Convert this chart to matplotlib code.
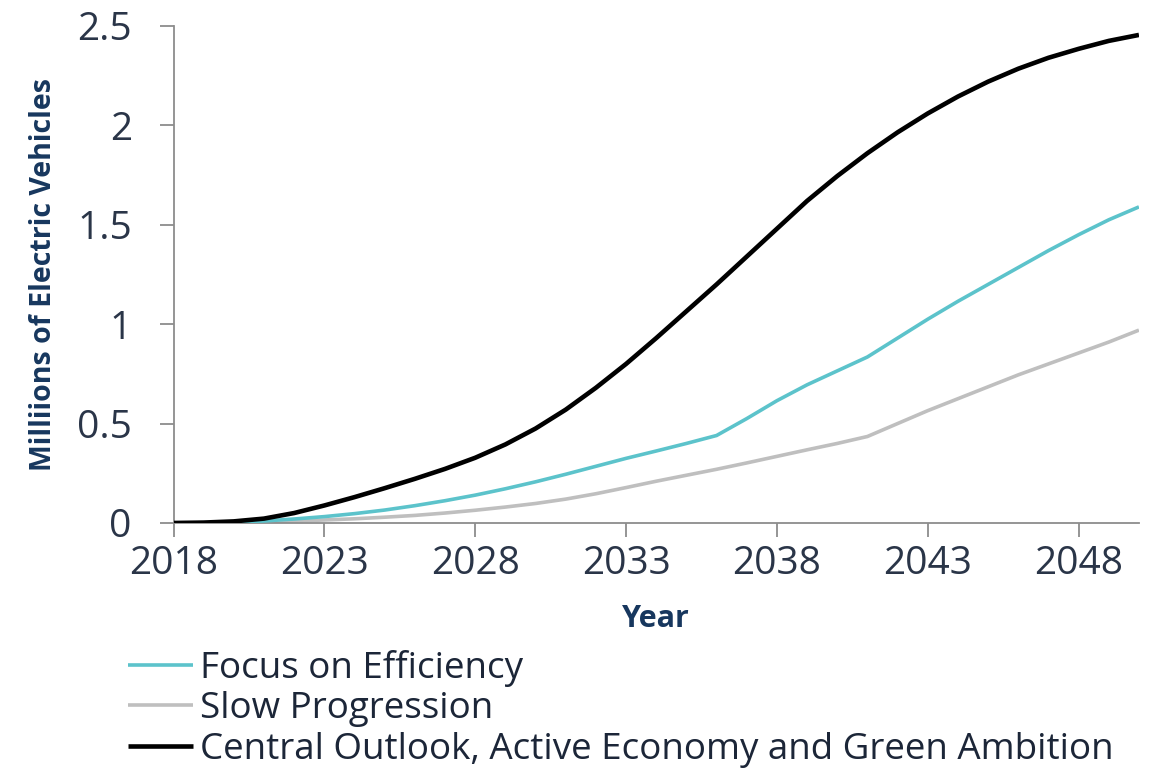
"""
Electric vehicle uptake scenarios, 2018-2050
Run: python plot.py  -> out.png
"""

import matplotlib
matplotlib.use("Agg")
import matplotlib.pyplot as plt
from matplotlib import font_manager


# =============================================================================
# Data (millions of electric vehicles)
# =============================================================================

years = list(range(2018, 2051))

focus_on_efficiency = [
    0.0, 0.001, 0.004, 0.01, 0.02, 0.032, 0.047, 0.065, 0.087, 0.112,
    0.14, 0.172, 0.207, 0.245, 0.285, 0.325, 0.362, 0.40, 0.44, 0.525,
    0.615, 0.695, 0.765, 0.835, 0.93, 1.025, 1.115, 1.20, 1.285, 1.37,
    1.45, 1.525, 1.59,
]

slow_progression = [
    0.0, 0.001, 0.003, 0.006, 0.01, 0.015, 0.021, 0.029, 0.038, 0.05,
    0.064, 0.08, 0.098, 0.12, 0.147, 0.178, 0.21, 0.24, 0.27, 0.302,
    0.335, 0.368, 0.40, 0.435, 0.50, 0.565, 0.625, 0.685, 0.745, 0.80,
    0.855, 0.91, 0.97,
]

central_outlook = [
    0.0, 0.002, 0.008, 0.022, 0.05, 0.088, 0.13, 0.175, 0.222, 0.272,
    0.328, 0.395, 0.475, 0.57, 0.68, 0.80, 0.93, 1.065, 1.20, 1.34,
    1.48, 1.62, 1.745, 1.86, 1.965, 2.06, 2.145, 2.22, 2.285, 2.34,
    2.385, 2.425, 2.455,
]

series_labels = [
    "Focus on Efficiency",
    "Slow Progression",
    "Central Outlook, Active Economy and Green Ambition",
]

x_ticks = [2018, 2023, 2028, 2033, 2038, 2043, 2048]
y_ticks = [0, 0.5, 1, 1.5, 2, 2.5]
y_tick_labels = ["0", "0.5", "1", "1.5", "2", "2.5"]


# =============================================================================
# Styling
# =============================================================================

installed = {f.name for f in font_manager.fontManager.ttflist}
BODY_FONT = "Open Sans" if "Open Sans" in installed else "DejaVu Sans"

plt.rcParams["font.family"] = [BODY_FONT, "DejaVu Sans"]

CYAN = "#5cc3cb"
GREY = "#bfbfbf"
BLACK = "#000000"
AXIS_GREY = "#8c8c8c"
TICK_TEXT = "#2a3548"
NAVY = "#17375e"


# =============================================================================
# Plot
# =============================================================================

fig = plt.figure(figsize=(11.66, 7.71), dpi=100)
ax = fig.add_axes([0.1488, 0.3217, 0.828, 0.6446])

line_style = dict(solid_capstyle="butt", solid_joinstyle="round")
ax.plot(years, focus_on_efficiency, color=CYAN, linewidth=2.6,
        label=series_labels[0], zorder=3, **line_style)
ax.plot(years, slow_progression, color=GREY, linewidth=2.6,
        label=series_labels[1], zorder=2, **line_style)
ax.plot(years, central_outlook, color=BLACK, linewidth=3.3,
        label=series_labels[2], zorder=4, **line_style)

ax.set_xlim(2018, 2050)
ax.set_ylim(0, 2.5)
ax.set_xticks(x_ticks)
ax.set_xticklabels([str(y) for y in x_ticks])
ax.set_yticks(y_ticks)
ax.set_yticklabels(y_tick_labels)

for side in ("top", "right"):
    ax.spines[side].set_visible(False)
for side in ("left", "bottom"):
    ax.spines[side].set_color(AXIS_GREY)
    ax.spines[side].set_linewidth(1.3)

ax.tick_params(axis="both", direction="out", length=10, width=1.3,
               color=AXIS_GREY, labelcolor=TICK_TEXT, labelsize=28)
ax.tick_params(axis="x", pad=6)
ax.tick_params(axis="y", pad=20)

ax.set_xlabel("Year", fontsize=22, fontweight="bold", color=NAVY, labelpad=15)
ax.set_ylabel("Milliions of Electric Vehicles", fontsize=20.5, fontweight="bold",
              color=NAVY, labelpad=14)

fig.legend(loc="upper left", bbox_to_anchor=(0.11, 0.157),
           frameon=False, fontsize=26.5, handlelength=1.75, handletextpad=0.2,
           labelspacing=0.12, borderpad=0, borderaxespad=0,
           labelcolor="#1c2638")

fig.savefig("out.png", dpi=100, facecolor="white")
